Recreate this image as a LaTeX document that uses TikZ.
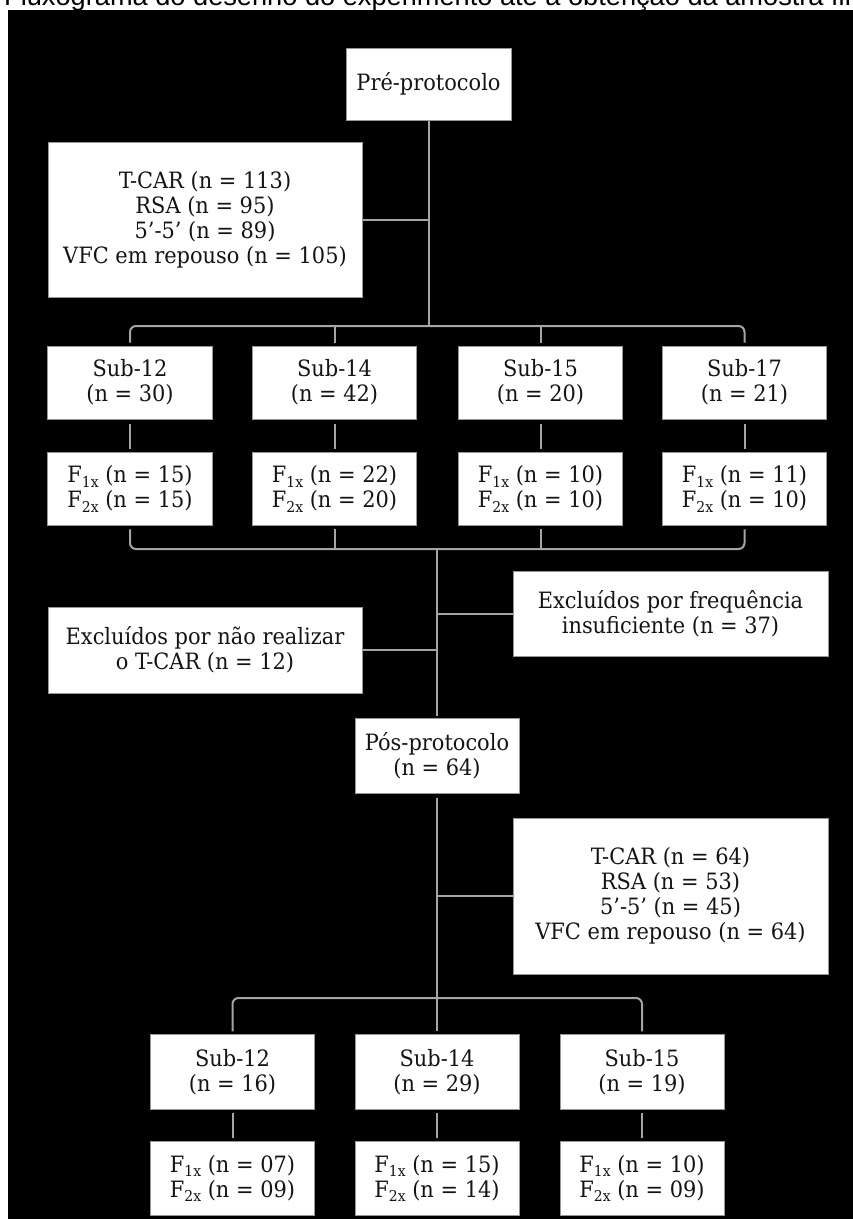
\documentclass[tikz,border=0pt]{standalone}
\usepackage{fontspec}
\setmainfont{DejaVu Serif}[FakeStretch=0.93]
\newfontfamily\titlefont{Liberation Sans}
\definecolor{linegray}{RGB}{165,165,165}
\definecolor{boxgray}{RGB}{150,150,150}
\newcommand\sbs[1]{\raisebox{-4.5pt}{\fontsize{15}{15}\selectfont #1}}
\begin{document}
\begin{tikzpicture}[x=1pt,y=-1pt,
  box/.style={draw=boxgray, line width=1pt, fill=white, align=center, inner sep=0pt,
    font=\fontsize{22.5}{25}\selectfont, text=black!92},
  conn/.style={draw=linegray, line width=2pt},
  rconn/.style={conn, rounded corners=6pt}]
\useasboundingbox (0,0) rectangle (853,1219);
\clip (0,0) rectangle (853,1219);
\node[anchor=base west, inner sep=0pt, font=\titlefont\fontsize{27.2}{30}\selectfont] (title) at (4,5)
  {Fluxograma do desenho do experimento até a obtenção da amostra final};
\fill[black] (8,10) rectangle (853,1219);

% nodes
\node[box, minimum width=165pt, minimum height=72pt] (pre) at (428.5,84) {Pré-protocolo};
\node[box, minimum width=314pt, minimum height=155pt] (tcar1) at (205,219.5)
  {T-CAR (n = 113)\\RSA (n = 95)\\5'-5' (n = 89)\\VFC em repouso (n = 105)};
\node[box, minimum width=164.5pt, minimum height=73pt] (s12) at (130,382.5) {Sub-12\\(n = 30)};
\node[box, minimum width=164.5pt, minimum height=73pt] (s14) at (334.5,382.5) {Sub-14\\(n = 42)};
\node[box, minimum width=164.5pt, minimum height=73pt] (s15) at (540.5,382.5) {Sub-15\\(n = 20)};
\node[box, minimum width=164.5pt, minimum height=73pt] (s17) at (744.5,382.5) {Sub-17\\(n = 21)};
\node[box, minimum width=164.5pt, minimum height=73.5pt] (f12) at (130,489) {F\sbs{1x} (n = 15)\\F\sbs{2x} (n = 15)};
\node[box, minimum width=164.5pt, minimum height=73.5pt] (f14) at (334.5,489) {F\sbs{1x} (n = 22)\\F\sbs{2x} (n = 20)};
\node[box, minimum width=164.5pt, minimum height=73.5pt] (f15) at (540.5,489) {F\sbs{1x} (n = 10)\\F\sbs{2x} (n = 10)};
\node[box, minimum width=164.5pt, minimum height=73.5pt] (f17) at (744.5,489) {F\sbs{1x} (n = 11)\\F\sbs{2x} (n = 10)};
\node[box, minimum width=315pt, minimum height=85pt] (exf) at (670.5,613.5) {Excluídos por frequência\\insuficiente (n = 37)};
\node[box, minimum width=314pt, minimum height=86pt] (exn) at (205,650) {Excluídos por não realizar\\o T-CAR (n = 12)};
\node[box, minimum width=164pt, minimum height=75pt] (pos) at (437,755.5) {Pós-protocolo\\(n = 64)};
\node[box, minimum width=315pt, minimum height=156pt] (tcar2) at (670.5,896)
  {T-CAR (n = 64)\\RSA (n = 53)\\5'-5' (n = 45)\\VFC em repouso (n = 64)};
\node[box, minimum width=164pt, minimum height=74.5pt] (t12) at (232.5,1072) {Sub-12\\(n = 16)};
\node[box, minimum width=164pt, minimum height=74.5pt] (t14) at (437,1072) {Sub-14\\(n = 29)};
\node[box, minimum width=164pt, minimum height=74.5pt] (t15) at (642,1072) {Sub-15\\(n = 19)};
\node[box, minimum width=164pt, minimum height=73.5pt] (g12) at (232.5,1178.5) {F\sbs{1x} (n = 07)\\F\sbs{2x} (n = 09)};
\node[box, minimum width=164pt, minimum height=73.5pt] (g14) at (437,1178.5) {F\sbs{1x} (n = 15)\\F\sbs{2x} (n = 14)};
\node[box, minimum width=164pt, minimum height=73.5pt] (g15) at (642,1178.5) {F\sbs{1x} (n = 10)\\F\sbs{2x} (n = 09)};

\coordinate (b1) at (428,326);
\coordinate (b2) at (437,549);
\coordinate (b3) at (437,998);

% connectors: first stage
\draw[conn] (pre.south) -- (pre.south |- b1);
\draw[conn] (tcar1.east) -- (tcar1.east -| pre.south);
\draw[rconn] ([yshift=3pt]s12.north) |- (b1) -| ([yshift=3pt]s17.north);
\draw[conn] (s14.north |- b1) -- ([yshift=3pt]s14.north);
\draw[conn] (s15.north |- b1) -- ([yshift=3pt]s15.north);
\foreach \a/\b in {s12/f12,s14/f14,s15/f15,s17/f17}
  \draw[conn, shorten <=4pt, shorten >=3pt] (\a.south) -- (\b.north);
\draw[rconn] ([yshift=-3pt]f12.south) |- (b2) -| ([yshift=-3pt]f17.south);
\draw[conn] (f14.south |- b2) -- ([yshift=-3pt]f14.south);
\draw[conn] (f15.south |- b2) -- ([yshift=-3pt]f15.south);
% trunk
\draw[conn, shorten >=2pt] (b2) -- (b2 |- pos.north);
\draw[conn] (b2 |- exf.west) -- (exf.west);
\draw[conn] (exn.east) -- (exn.east -| b2);
\draw[conn, shorten <=4pt] (pos.south) -- (b3);
\draw[conn] (b3 |- tcar2.west) -- (tcar2.west);
% second stage
\draw[rconn] ([yshift=3pt]t12.north) |- (b3) -| ([yshift=3pt]t15.north);
\draw[conn] (b3) -- ([yshift=3pt]t14.north);
\foreach \a/\b in {t12/g12,t14/g14,t15/g15}
  \draw[conn, shorten <=3.5pt, shorten >=3.5pt] (\a.south) -- (\b.north);
\end{tikzpicture}
\end{document}
